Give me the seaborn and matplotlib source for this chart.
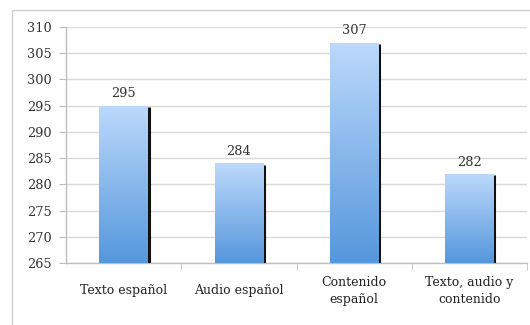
import numpy as np
import pandas as pd
import matplotlib
matplotlib.use("Agg")
import matplotlib.pyplot as plt
import seaborn as sns
from matplotlib.colors import LinearSegmentedColormap
from matplotlib.patches import Rectangle

categories = ["Texto español", "Audio español", "Contenido\nespañol", "Texto, audio y\ncontenido"]
values = [295, 284, 307, 282]
yticks = [265, 270, 275, 280, 285, 290, 295, 300, 305, 310]

df = pd.DataFrame({"cat": categories, "val": values})

sns.set_style("white")
plt.rcParams['font.family'] = ['DejaVu Serif']

fig = plt.figure(figsize=(5.3, 3.25), dpi=100)
# outer border (runs off the right and bottom edges)
fig.patches.append(Rectangle((12/530, -5/325), 540/530, (325-10+5)/325, transform=fig.transFigure,
                             fill=False, edgecolor="#d0d0d0", linewidth=1.0))
ax = fig.add_axes([66/530, 1-263/325, (527-66)/530, (263-27)/325])

sns.barplot(data=df, x="cat", y="val", ax=ax, width=0.42, color="#7fb2ea", saturation=1,
            edgecolor="none", zorder=3)

cmap = LinearSegmentedColormap.from_list("g", ["#5597dc", "#bcd9fb"])
grad = np.linspace(0, 1, 256).reshape(-1, 1)
for p, v in zip(ax.patches, values):
    x0, w = p.get_x(), p.get_width()
    y0 = 265
    im = ax.imshow(grad, cmap=cmap, aspect="auto", origin="lower",
                   extent=(x0, x0 + w, y0, v), zorder=3)
    im.set_clip_path(p)
    p.set_facecolor("none")
    ax.plot([x0 + w + 0.006, x0 + w + 0.006], [y0, v - 0.3], color="#111111", lw=2.2,
            zorder=2.9, solid_capstyle="butt")
    ax.text(x0 + w / 2, v + 1.0, str(v), ha="center", va="bottom", fontsize=9.3, color="#333333")
ax.set_xlim(-0.5, len(categories) - 0.5)
ax.set_ylim(265, 310)
ax.set_yticks(yticks)

ax.grid(axis="y", color="#d9d9d9", linewidth=1.0, zorder=0)
ax.set_axisbelow(True)
for s in ["top", "right"]:
    ax.spines[s].set_visible(False)
for s in ["left", "bottom"]:
    ax.spines[s].set_color("#bfbfbf")
    ax.spines[s].set_linewidth(1.0)

ax.set_xlabel("")
ax.set_ylabel("")
ax.tick_params(axis="y", length=5, color="#bfbfbf", labelsize=9.3, labelcolor="#333333", pad=5.5, left=True)
ax.tick_params(axis="x", length=0, labelsize=9.0, labelcolor="#222222", pad=20)
ax.set_xticks(range(len(categories)))
ax.set_xticklabels(categories, linespacing=1.45)
for t in ax.get_xticklabels():
    t.set_verticalalignment("center")
ax.set_xticks([i + 0.5 for i in range(len(categories))], minor=True)
ax.tick_params(axis="x", which="minor", length=5, color="#bfbfbf", bottom=True)

fig.savefig("out.png", dpi=100)
